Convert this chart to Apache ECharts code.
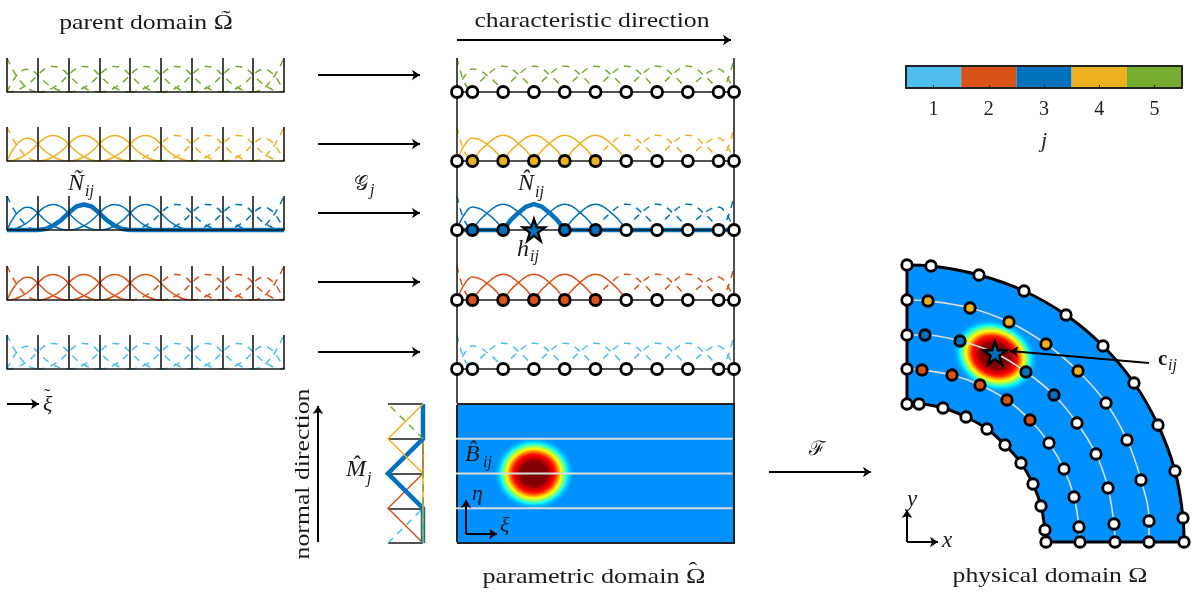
<!DOCTYPE html>
<html><head><meta charset="utf-8">
<style>html,body{margin:0;padding:0;background:#fff}#c{width:1199px;height:593px}#c canvas{filter:blur(.4px)}</style>
<script src="https://cdn.jsdelivr.net/npm/echarts@6/dist/echarts.min.js"></script>
</head><body><div id="c"></div>
<script>
// ---------- data ----------
const jValues = [1, 2, 3, 4, 5];
const jColors = ['#4DBEEE', '#D95319', '#0072BD', '#EDB120', '#77AC30'];
const rowOrder = [5, 4, 3, 2, 1];
const activeRows = [2, 3, 4];
const activeFunctions = [1, 2, 3, 4, 5];
const thickFunction = 3;
const thickRow = 3;

// parent-domain basis functions (x in elements, y in value)
const parentEdgeX = [0, .25, .5, .75, 1];
const parentEdgeY = [1, .56, .25, .06, 0];
const parentShoulderX = [0, .25, .5, .67, .75, 1, 1.25, 1.5, 1.75, 2];
const parentShoulderY = [0, .41, .63, .67, .66, .5, .28, .13, .03, 0];
const parentHumpX = [0, .25, .5, .75, 1, 1.25, 1.5, 1.75, 2, 2.25, 2.5, 2.75, 3];
const parentHumpY = [0, .03, .13, .28, .5, .69, .75, .69, .5, .28, .13, .03, 0];
const parentHumpStarts = [0, 1, 2, 3, 4, 5, 6];

// parametric-domain basis functions
const greville = [0, .5, 1.5, 2.5, 3.5, 4.5, 5.5, 6.5, 7.5, 8.5, 9];
const midEdgeX = [0, .12, .25, .38, .5];
const midEdgeY = [1, .58, .27, .08, 0];
const midBellT = [-1, -.75, -.5, -.25, 0, .25, .5, .75, 1];
const midBellY = [0, .3, .51, .69, .76, .69, .51, .3, 0];
const midShoulderY = [0, .28, .47, .62, .68, .62, .47, .28, 0];

// normal-direction hat functions, one per j, at eta = 0..4
const etaKnots = [0, 1, 2, 3, 4];
const hatValues = [
  [1, 0, 0, 0, 0],
  [0, 1, 0, 0, 0],
  [0, 0, 1, 0, 0],
  [0, 0, 0, 1, 0],
  [0, 0, 0, 0, 1]
];
const bumpLevels = [1, .97, .94, .91, .88, .86, .84, .82, .8, .78, .76, .74, .72, .7, .68, .66, .64, .62, .6, .58, .56, .53, .49, .45, .41, .37, .33];
const bumpColors = ['#0098ff', '#00a4ff', '#00b4ff', '#00c8ff', '#00e0ff', '#00f4ff', '#20ffdf', '#40ffbf', '#60ff9f', '#80ff80', '#a0ff60', '#c0ff40', '#e0ff20', '#ffff00', '#ffe000', '#ffc000', '#ffa000', '#ff8000', '#ff6000', '#ff4000', '#ff2000', '#ff0000', '#e00000', '#c80000', '#a80000', '#900000', '#800000'];

// physical-domain control points, rows j=1..5 (picture units)
const physX = [
  [907, 919, 943, 966, 987, 1005, 1021, 1033, 1041, 1045, 1046],
  [907, 922, 952, 980, 1007, 1030, 1049, 1064, 1074, 1079, 1080],
  [907, 925, 960, 995, 1026, 1054, 1077, 1096, 1108, 1114, 1115],
  [907, 928, 970, 1009, 1046, 1078, 1106, 1127, 1141, 1149, 1149],
  [907, 931, 979, 1024, 1066, 1103, 1134, 1158, 1175, 1183, 1184]
];
const physY = [
  [404, 404, 408, 417, 429, 445, 463, 484, 506, 530, 542],
  [369, 370, 375, 385, 400, 420, 443, 469, 497, 527, 542],
  [335, 335, 341, 353, 372, 395, 423, 454, 488, 524, 542],
  [300, 301, 308, 322, 344, 371, 403, 440, 480, 521, 542],
  [265, 266, 275, 291, 315, 346, 383, 425, 471, 518, 542]
];
const colorbarValues = [1, 1, 1, 1, 1];
const STAR = 'path://M50 0 L62 35 L98 35 L68 57 L79 92 L50 70 L21 92 L32 57 L2 35 L38 35 Z';

// ---------- layout ----------
const rowBase = [92, 161, 230, 300, 369];
const ROW_H = 34, PANEL_W = 277;
const grids = [], xAxes = [], yAxes = [], series = [];
function addGrid(g, x, y) { grids.push(g); const i = grids.length - 1;
  xAxes.push(Object.assign({ gridIndex: i }, x)); yAxes.push(Object.assign({ gridIndex: i }, y)); return i; }
const off = { show: false };
const black = '#1a1a1a';
const rowX = split => ({ type: 'value', min: 0, max: 9, interval: 1, z: 3,
  axisLine: { show: true, onZero: false, lineStyle: { color: black, width: 1.6 } }, axisTick: off, axisLabel: off,
  splitLine: split ? { show: true, lineStyle: { color: black, width: 1.6 } } : off });
const rowY = { type: 'value', min: 0, max: 1, show: false, splitLine: off };

function addCurve(gi, pts, color, dashed, thick, j) {
  series.push({ type: 'line', xAxisIndex: gi, yAxisIndex: gi, data: pts, showSymbol: false, smooth: thick ? false : .5, clip: false, silent: true,
    z: 2, lineStyle: { color, width: thick ? 4.5 : 1.5, type: dashed ? [7, 6] : 'solid', cap: 'butt' } });
}
const zipXY = (xs, ys) => xs.map((v, i) => [v, ys[i]]);

// parent-domain rows
function parentFunction(k) {
  if (k === 0) return zipXY(parentEdgeX, parentEdgeY);
  if (k === 1) return zipXY(parentShoulderX, parentShoulderY);
  if (k === 9) return zipXY(parentShoulderX, parentShoulderY).map(p => [9 - p[0], p[1]]).reverse();
  if (k === 10) return zipXY(parentEdgeX, parentEdgeY).map(p => [9 - p[0], p[1]]).reverse();
  const s = parentHumpStarts[k - 2];
  return zipXY(parentHumpX, parentHumpY).map(p => [p[0] + s, p[1]]);
}
function midFunction(k) {
  if (k === 0) return zipXY(midEdgeX, midEdgeY);
  if (k === 10) return zipXY(midEdgeX, midEdgeY).map(p => [9 - p[0], p[1]]).reverse();
  const ys = (k === 1 || k === 9) ? midShoulderY : midBellY;
  const g = greville[k], l = g - greville[k - 1], r = greville[k + 1] - g;
  return midBellT.map((t, i) => [g + t * (t < 0 ? l : r), ys[i]]);
}
function addRows(left, fn, split) {
  rowOrder.forEach((j, r) => {
    const gi = addGrid({ left, top: rowBase[r] - ROW_H, width: PANEL_W, height: ROW_H }, rowX(split), rowY);
    const color = jColors[j - 1];
    for (let k = 0; k <= 10; k++) {
      const solid = activeRows.includes(j) && activeFunctions.includes(k);
      addCurve(gi, fn(k), color, !solid, false);
    }
    if (j === thickRow) {
      const p = fn(thickFunction);
      addCurve(gi, [[0, 0], ...p, [9, 0]], color, false, true);
    }
  });
  return grids.length - 5;
}
addRows(7, parentFunction, true);
const midStart = addRows(457, midFunction, false);

// markers on the parametric rows
rowOrder.forEach((j, r) => {
  const gi = midStart + r;
  const data = greville.map((g, k) => {
    const active = activeRows.includes(j) && activeFunctions.includes(k);
    return { value: [g, 0], itemStyle: { color: active ? jColors[j - 1] : '#fff' } };
  }).filter((d, k) => !(j === thickRow && k === thickFunction));
  series.push({ type: 'scatter', xAxisIndex: gi, yAxisIndex: gi, data, symbolSize: 11, clip: false, silent: true, z: 4,
    itemStyle: { borderColor: '#000', borderWidth: 2.8, opacity: 1 } });
  if (j === thickRow) series.push({ type: 'scatter', xAxisIndex: gi, yAxisIndex: gi, data: [[greville[thickFunction], 0]], symbol: STAR, symbolSize: 22, clip: false, silent: true, z: 5,
    itemStyle: { color: jColors[j - 1], borderColor: '#000', borderWidth: 2.4, opacity: 1 } });
});

// parametric rectangle
const rectG = addGrid({ left: 457, top: 404, width: PANEL_W, height: 139, show: true, backgroundColor: '#0090ff', borderColor: '#222', borderWidth: 2 },
  { type: 'value', min: 0, max: 9, show: false, splitLine: off }, { type: 'value', min: 0, max: 4, show: false, splitLine: off });
const bumpSeries = (gi, cx, cy, rx, ry, rot) => ({ type: 'custom', xAxisIndex: gi, yAxisIndex: gi, silent: true, clip: false, z: 2,
  data: bumpLevels.map((v, i) => [cx, cy, v, i]),
  renderItem: (p, api) => {
    const c = api.coord([cx, cy]), s = api.size([1, 1]), f = api.value(2);
    return { type: 'ellipse', shape: { cx: 0, cy: 0, rx: rx * s[0] * f, ry: ry * s[1] * f }, x: c[0], y: c[1], rotation: rot,
      style: { fill: bumpColors[api.value(3)] } };
  } });
series.push(bumpSeries(rectG, 2.5, 2, 1.28, 1.03, 0));
etaKnots.forEach(e => {
  const inner = e > 0 && e < 4;
  series.push({ type: 'line', xAxisIndex: rectG, yAxisIndex: rectG, data: [[-1.1, e], [inner ? 8.95 : 0, e]], showSymbol: false, clip: false, silent: true,
    lineStyle: { color: '#dcdcdc', width: 1.8 } });
});

// normal-direction panel
const hatG = addGrid({ left: 388, top: 404, width: 35, height: 139 },
  { type: 'value', min: 0, max: 1, inverse: true, show: false, splitLine: off },
  { type: 'value', min: 0, max: 4, interval: 1, z: 1, axisLine: off, axisTick: off, axisLabel: off, splitLine: { show: true, lineStyle: { color: black, width: 1.5 } } });
hatValues.forEach((vals, i) => {
  const j = jValues[i], thick = j === thickRow, dashed = j === 1 || j === 5;
  series.push({ type: 'line', xAxisIndex: hatG, yAxisIndex: hatG, data: vals.map((v, n) => [v, etaKnots[n]]), showSymbol: false, clip: false, silent: true,
    lineStyle: { color: jColors[i], width: thick ? 4.5 : 1.5, type: dashed ? [7, 6] : 'solid', join: 'miter' } });
});

// colour bar
const cbLine = { show: true, onZero: false, lineStyle: { color: '#222', width: 2 } };
const cbG = addGrid({ left: 906, top: 66, width: 276, height: 22 },
  { type: 'category', data: jValues, z: 5, axisLine: cbLine,
    axisTick: { show: true, inside: true, alignWithLabel: true, length: 3, lineStyle: { color: '#222' } },
    axisLabel: { show: true, margin: 12, color: '#222', fontSize: 20, fontFamily: 'Liberation Serif' },
    name: 'j', nameLocation: 'middle', nameGap: 42, nameTextStyle: { color: '#222', fontSize: 22, fontStyle: 'italic', fontFamily: 'Liberation Serif' } },
  { type: 'value', min: 0, max: 1, z: 5, axisLine: cbLine, axisTick: off, axisLabel: off, splitLine: off });
series.push({ type: 'bar', xAxisIndex: cbG, yAxisIndex: cbG, barWidth: '100%', silent: true,
  data: colorbarValues.map((v, i) => ({ value: v, itemStyle: { color: jColors[i] } })) });
// right and top frame of the colour bar share the same grid
xAxes.push({ gridIndex: cbG, type: 'category', data: jValues, position: 'top', z: 5, axisLine: cbLine, axisTick: off, axisLabel: off });
yAxes.push({ gridIndex: cbG, type: 'value', min: 0, max: 1, position: 'right', z: 5, axisLine: cbLine, axisTick: off, axisLabel: off, splitLine: off });

// whole-picture grid for the physical domain and the arrows
const pg = addGrid({ left: 0, top: 0, width: 1199, height: 593 },
  { type: 'value', min: 0, max: 1199, show: false, splitLine: off }, { type: 'value', min: 0, max: 593, inverse: true, show: false, splitLine: off });
const pgX = xAxes.length - 1, pgY = yAxes.length - 1;
const on = { xAxisIndex: pgX, yAxisIndex: pgY, silent: true, clip: false };
const physRow = r => physX[r].map((x, i) => [x, physY[r][i]]);
const outline = [...physRow(4), ...physRow(0).reverse()];
series.push(Object.assign({ type: 'custom', z: 2, data: [0],
  renderItem: (p, api) => ({ type: 'polygon', shape: { points: outline.map(q => api.coord(q)) }, style: { fill: '#0090ff' } }) }, on));
series.push(Object.assign(bumpSeries(pgX, 995, 356, 43, 35, -0.42), { xAxisIndex: pgX, yAxisIndex: pgY }));
[1, 2, 3].forEach(r => series.push(Object.assign({ type: 'line', data: physRow(r), smooth: .4, showSymbol: false, lineStyle: { color: '#dcdcdc', width: 1.6 } }, on)));
[0, 4].forEach(r => series.push(Object.assign({ type: 'line', data: physRow(r), smooth: .4, showSymbol: false, z: 3, lineStyle: { color: '#000', width: 3 } }, on)));
series.push(Object.assign({ type: 'line', data: [physRow(4)[0], physRow(0)[0]], showSymbol: false, z: 3, lineStyle: { color: '#000', width: 3 } }, on));
series.push(Object.assign({ type: 'line', data: [physRow(0)[10], physRow(4)[10]], showSymbol: false, z: 3, lineStyle: { color: '#000', width: 3 } }, on));
const physMarkers = [];
physX.forEach((xs, r) => xs.forEach((x, k) => {
  const j = r + 1;
  if (j === thickRow && k === thickFunction) return;
  const active = activeRows.includes(j) && activeFunctions.includes(k);
  physMarkers.push({ value: [x, physY[r][k]], itemStyle: { color: active ? jColors[r] : '#fff' } });
}));
series.push(Object.assign({ type: 'scatter', data: physMarkers, symbolSize: 10.5, z: 4, itemStyle: { borderColor: '#000', borderWidth: 2.8, opacity: 1 } }, on));

// arrows
const arrowList = [
  [318, 75, 420, 75], [318, 144, 420, 144], [318, 213, 420, 213], [318, 282, 420, 282], [318, 352, 420, 352],
  [457, 40, 731, 40], [769, 472, 871, 472], [318, 542, 318, 406], [7, 404, 39, 404],
  [466, 534, 466, 500], [466, 534, 497, 534], [907, 542, 907, 510], [907, 542, 938, 542], [1149, 363, 1010, 351]
];
const plainLines = [[457, 58, 457, 404], [734, 58, 734, 404]];
series.push(Object.assign({ type: 'lines', coordinateSystem: 'cartesian2d', z: 3, symbol: ['none', 'none'], lineStyle: { color: '#222', width: 1.6, opacity: 1, curveness: 0 },
  data: plainLines.map(a => ({ coords: [[a[0], a[1]], [a[2], a[3]]] })) }, on));
series.push(Object.assign({ type: 'lines', coordinateSystem: 'cartesian2d', z: 6, symbol: ['none', 'arrow'], symbolSize: 8, lineStyle: { color: '#000', width: 2, opacity: 1, curveness: 0 },
  data: arrowList.map(a => ({ coords: [[a[0], a[1]], [a[2], a[3]]] })) }, on));
series.push(Object.assign({ type: 'scatter', data: [[physX[2][3], physY[2][3]]], symbol: STAR, symbolSize: 23, z: 7, itemStyle: { color: jColors[2], borderColor: '#000', borderWidth: 2.4, opacity: 1 } }, on));

// ---------- text ----------
const SERIF = '"Liberation Serif", serif';
const T = (x, y, text, size, o) => Object.assign({ type: 'text', x, y, z: 50, silent: true,
  style: { text, fill: '#1a1a1a', font: (o && o.style || '') + ' ' + size + 'px ' + SERIF, textAlign: (o && o.align) || 'left', textVerticalAlign: 'middle' } },
  o && o.rotation != null ? { rotation: o.rotation } : {}, o && o.sx ? { scaleX: o.sx } : {});
const IT = { style: 'italic' };
const H = { align: 'center', sx: 1.17 };
const texts = [
  T(146, 23, 'parent domain \u03A9', 22, H), T(226, 19, '\u02DC', 22, { align: 'center', sx: 1.2 }),
  T(592, 21, 'characteristic direction', 22, H),
  T(594, 577, 'parametric domain \u03A9', 22, { align: 'center', sx: 1.19 }), T(693, 571, '\u02C6', 22, { align: 'center', sx: 1.2 }),
  T(1050, 576, 'physical domain \u03A9', 22, H),
  T(303, 474, 'normal direction', 22, { align: 'center', rotation: Math.PI / 2, sx: 1.17 }),
  T(68, 184, 'N\u0303', 24, IT), T(85, 192, 'ij', 16, IT),
  T(518, 184, 'N\u0302', 24, IT), T(535, 193, 'ij', 16, IT),
  T(517, 250, 'h', 24, IT), T(530, 257, 'ij', 16, IT),
  T(354, 185, '\uD835\uDCA2', 20), T(370, 191, 'j', 16, IT),
  T(346, 470, 'M\u0302', 24, IT), T(367, 479, 'j', 16, IT),
  T(465, 455, 'B\u0302', 24, IT), T(483, 463, 'ij', 16, IT),
  T(472, 494, '\u03B7', 22, IT), T(500, 526, '\u03BE', 22, IT),
  T(43, 405, '\u03BE', 22, IT), T(47, 398, '\u02DC', 20, { align: 'center' }),
  T(809, 450, '\u2131', 20),
  T(1158, 360, 'c', 21, { style: 'bold' }), T(1168, 366, 'ij', 16, IT),
  T(942, 541, 'x', 23, IT), T(907, 500, 'y', 23, IT)
];

const chart = echarts.init(document.getElementById('c'), null, { renderer: 'canvas' });
chart.setOption({ animation: false, backgroundColor: '#fff', tooltip: { show: false }, legend: { show: false },
  grid: grids, xAxis: xAxes, yAxis: yAxes, series, graphic: { elements: texts } });
</script></body></html>
